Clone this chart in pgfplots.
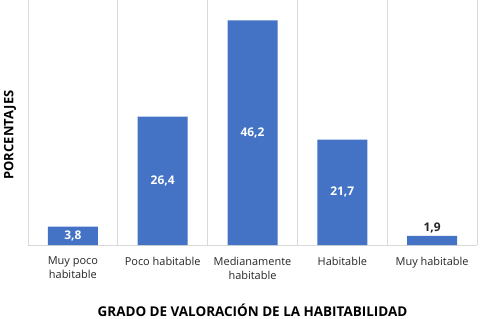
\documentclass[border=0pt]{standalone}
\usepackage{pgfplots}
\pgfplotsset{compat=1.18}
\usepackage{fontspec}
\setmainfont{Open Sans}
\definecolor{barblue}{HTML}{4472C4}
\definecolor{gridgray}{HTML}{D9D9D9}
\definecolor{txt}{HTML}{262626}
\pgfplotstableread{
x y lab
0 1.9 3,8
1 13.2 26,4
2 23.1 46,2
3 10.85 21,7
}\inlabels
\pgfplotstableread{
x y lab
4 3.5 1,9
}\outlabels
\begin{document}
\begin{tikzpicture}
\path[use as bounding box] (-28bp,-74bp) rectangle (453bp,245bp);
\begin{axis}[
  at={(0,0)}, anchor=south west,
  scale only axis, width=449bp, height=245bp,
  xmin=-0.5, xmax=4.5, ymin=0, ymax=50.4,
  axis lines*=left,
  x axis line style={draw=gridgray, line width=0.8pt, -},
  y axis line style={draw=none},
  ytick=\empty,
  xtick={0,1,2,3,4},
  xticklabels={{Muy poco\\habitable}, Poco habitable, {Medianamente\\habitable}, Habitable, Muy habitable},
  major tick length=0pt, minor tick length=0pt,
  minor xtick={-0.5,0.5,1.5,2.5,3.5,4.5},
  xminorgrids=true,
  minor grid style={gridgray, line width=0.8pt},
  xticklabel style={font=\fontsize{11}{14}\selectfont, text=txt, align=center, anchor=north, yshift=-8.5bp},
  xlabel={GRADO DE VALORACIÓN DE LA HABITABILIDAD},
  xlabel style={font=\fontsize{13.5}{15}\selectfont\bfseries, text=black, at={(axis description cs:0.5,0)}, anchor=base, yshift=-71bp},
  ylabel={PORCENTAJES},
  ylabel style={font=\fontsize{13}{15}\selectfont\bfseries, text=black, at={(axis description cs:-0.0323,0.449)}, anchor=base},
  clip=false,
]
\addplot[ybar, bar width=50bp, fill=barblue, draw=none] coordinates {(0,3.8) (1,26.4) (2,46.2) (3,21.7) (4,1.9)};
\addplot[draw=none, mark=none, nodes near coords, point meta=explicit symbolic,
  every node near coord/.append style={anchor=center, text=white, font=\fontsize{12}{14}\selectfont\bfseries}]
  table[x=x, y=y, meta=lab] {\inlabels};
\addplot[draw=none, mark=none, nodes near coords, point meta=explicit symbolic,
  every node near coord/.append style={anchor=center, text=txt, font=\fontsize{12}{14}\selectfont\bfseries}]
  table[x=x, y=y, meta=lab] {\outlabels};
\end{axis}
\end{tikzpicture}
\end{document}
